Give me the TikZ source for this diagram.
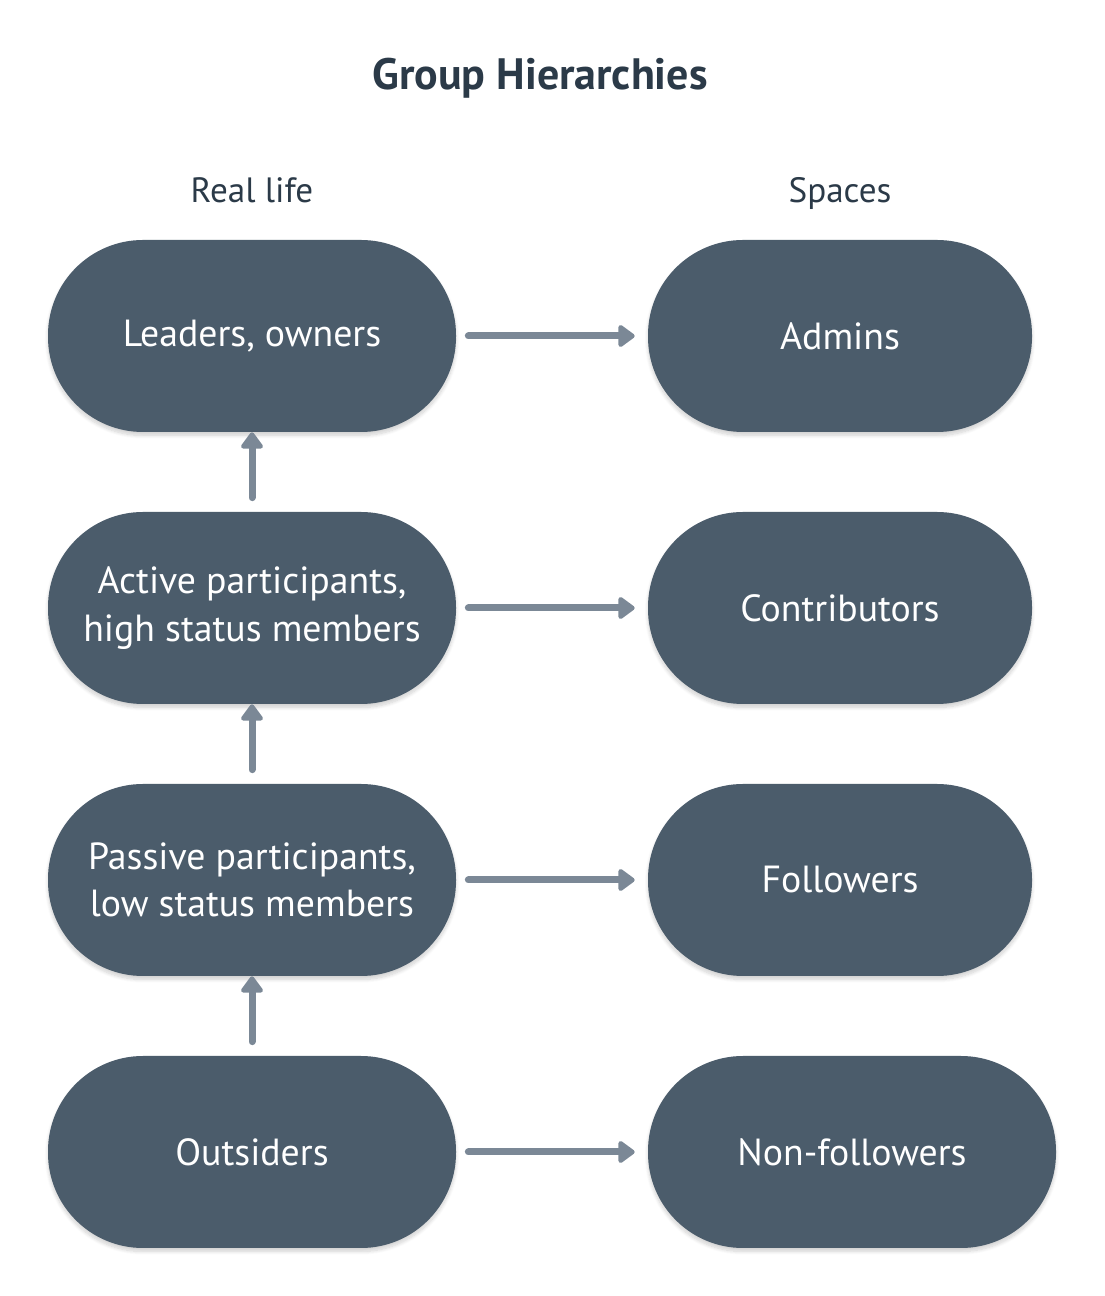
\documentclass[tikz,border=0pt]{standalone}
\usepackage{fontspec}
\setmainfont{PT Sans}
\usetikzlibrary{arrows.meta,shadows.blur}
\definecolor{boxfill}{HTML}{4B5C6B}
\definecolor{arrowgray}{HTML}{7B8896}
\definecolor{titleink}{HTML}{2B3A48}
\tikzset{
  pill/.style={rectangle, rounded corners=1.9cm, fill=boxfill, text=white, align=center,
    minimum width=8.16cm, minimum height=3.84cm, font=\fontsize{21.5}{27}\selectfont,
    blur shadow={shadow blur steps=8, shadow opacity=18, shadow xshift=0pt, shadow yshift=-2pt}},
  flow/.style={draw=arrowgray, line width=0.14cm, line cap=round,
    -{Triangle[length=0.36cm, width=0.5cm, round]}},
  header/.style={text=titleink, anchor=base, font=\fontsize{20}{24}\selectfont}
}
\begin{document}
\begin{tikzpicture}
\useasboundingbox (0,0) rectangle (22.08,25.92);
\node[text=titleink, anchor=base, font=\fontsize{25}{30}\selectfont\bfseries] (title) at (10.80,24.12) {Group Hierarchies};
\node[header] (hreal) at (5.04,21.86) {Real life};
\node[header] (hspaces) at (16.80,21.86) {Spaces};
% left column
\node[pill] (leaders) at (5.04,19.20) {Leaders, owners};
\node[pill] (active) at (5.04,13.76) {Active participants,\\high status members};
\node[pill] (passive) at (5.04,8.32) {Passive participants,\\low status members};
\node[pill] (outsiders) at (5.04,2.88) {Outsiders};
% right column
\node[pill, minimum width=7.68cm] (admins) at (16.80,19.20) {Admins};
\node[pill, minimum width=7.68cm] (contrib) at (16.80,13.76) {Contributors};
\node[pill, minimum width=7.68cm] (followers) at (16.80,8.32) {Followers};
\node[pill] (nonfollow) at (17.04,2.88) {Non-followers};
% arrows
\foreach \a/\b in {leaders/admins, active/contrib, passive/followers, outsiders/nonfollow}
  \draw[flow, shorten <=0.24cm, shorten >=0.26cm] (\a) -- (\b);
\foreach \a/\b in {outsiders/passive, passive/active, active/leaders}
  \draw[flow, shorten <=0.28cm] (\a) -- (\b);
\end{tikzpicture}
\end{document}
